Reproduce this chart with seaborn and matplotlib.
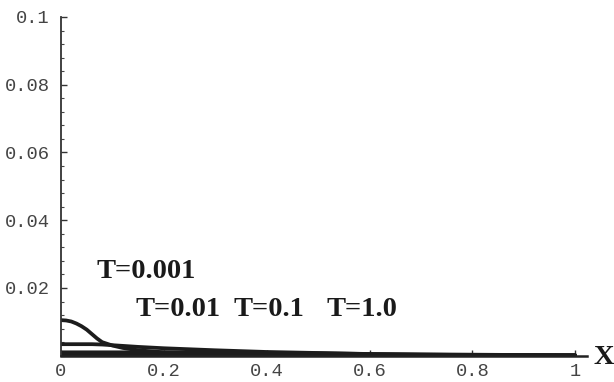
import numpy as np
import pandas as pd
import matplotlib
matplotlib.use("Agg")
import matplotlib.pyplot as plt
import seaborn as sns
from matplotlib.ticker import MultipleLocator

# ---- data ----
x_fine = [0.0, 0.01, 0.02, 0.03, 0.04, 0.05, 0.06, 0.07, 0.08, 0.10, 0.12, 0.15, 0.20, 0.30, 0.40, 0.50, 0.60, 0.80, 1.00]
c_t0001 = [0.0105, 0.0104, 0.0101, 0.0095, 0.0087, 0.0077, 0.0064, 0.0051, 0.0040, 0.0030, 0.0023, 0.0016, 0.0010, 0.0006, 0.0003, 0.0001, 0.0, 0.0, 0.0]
x_vals = [0.0, 0.02, 0.04, 0.06, 0.08, 0.10, 0.12, 0.15, 0.20, 0.30, 0.40, 0.50, 0.60, 0.70, 0.80, 0.90, 1.00]
c_t001 = [0.0034, 0.0034, 0.0034, 0.0034, 0.0033, 0.0031, 0.0029, 0.0026, 0.0022, 0.0016, 0.0011, 0.0008, 0.0005, 0.0003, 0.0002, 0.0001, 0.0]
c_t01 = [0.0010, 0.0010, 0.0010, 0.0010, 0.0010, 0.0010, 0.0010, 0.0010, 0.0010, 0.0009, 0.0008, 0.0007, 0.0005, 0.0004, 0.0003, 0.0002, 0.0001]
c_t1 = [0.0003, 0.0003, 0.0003, 0.0003, 0.0003, 0.0003, 0.0003, 0.0003, 0.0003, 0.0003, 0.0003, 0.0003, 0.0003, 0.0003, 0.0003, 0.0003, 0.0003]
series_names = ["T=0.001", "T=0.01", "T=0.1", "T=1.0"]
x_ticks = [0, 0.2, 0.4, 0.6, 0.8, 1]
x_tick_labels = ["0", "0.2", "0.4", "0.6", "0.8", "1"]
y_ticks = [0.02, 0.04, 0.06, 0.08, 0.1]
y_tick_labels = ["0.02", "0.04", "0.06", "0.08", "0.1"]
axis_label = "X"

df = pd.concat([
    pd.DataFrame({"x": xs, "c": vals, "T": name})
    for name, xs, vals in zip(series_names,
                              [x_fine, x_vals, x_vals, x_vals],
                              [c_t0001, c_t001, c_t01, c_t1])
])

sns.set_style("ticks")
plt.rcParams["font.family"] = ["DejaVu Sans"]

fig = plt.figure(figsize=(6.14, 3.82), dpi=100)
ax = fig.add_axes([61/614, 1-355.7/382, (587-61)/614, (355.7-17)/382])

sns.lineplot(data=df, x="x", y="c", hue="T", palette=["#1c1c1c"]*4,
             linewidth=2.7, legend=False, ax=ax, estimator=None, sort=False)

ax.set_xlim(0, 1.023)
ax.set_ylim(0, 0.1)
ax.set_xlabel("")
ax.set_ylabel("")

for s in ["top", "right"]:
    ax.spines[s].set_visible(False)
ax.spines["left"].set_linewidth(1.3)
ax.spines["bottom"].set_linewidth(1.8)
ax.spines["left"].set_color("#333333")
ax.spines["bottom"].set_color("#222222")

ax.set_xticks(x_ticks)
ax.set_xticklabels(x_tick_labels)
ax.set_yticks(y_ticks)
ax.set_yticklabels(y_tick_labels)
ax.xaxis.set_minor_locator(MultipleLocator(0.04))
ax.yaxis.set_minor_locator(MultipleLocator(0.004))
ax.tick_params(axis="both", which="major", direction="in", length=4, width=1.0, color="#333333")
ax.tick_params(axis="both", which="minor", direction="in", length=2.2, width=0.8, color="#444444")
ax.tick_params(axis="y", which="major", pad=8)
ax.tick_params(axis="x", which="major", pad=5)
for lab in ax.get_xticklabels() + ax.get_yticklabels():
    lab.set_fontfamily("Liberation Mono")
    lab.set_fontsize(13.5)
    lab.set_color("#444444")

serif = ["Liberation Serif", "DejaVu Serif"]
label_pos = [(0.070, 0.0229), (0.144, 0.0117), (0.336, 0.0117), (0.516, 0.0117)]
for name, (tx, ty) in zip(series_names, label_pos):
    ax.text(tx, ty, name, family=serif, fontweight="bold", fontsize=20.5,
            color="#1a1a1a", ha="left", va="baseline")

fig.text(593/614, 1-364/382, axis_label, family=serif, fontweight="bold",
         fontsize=20.5, color="#1a1a1a", ha="left", va="baseline")

fig.savefig("out.png", dpi=100)
